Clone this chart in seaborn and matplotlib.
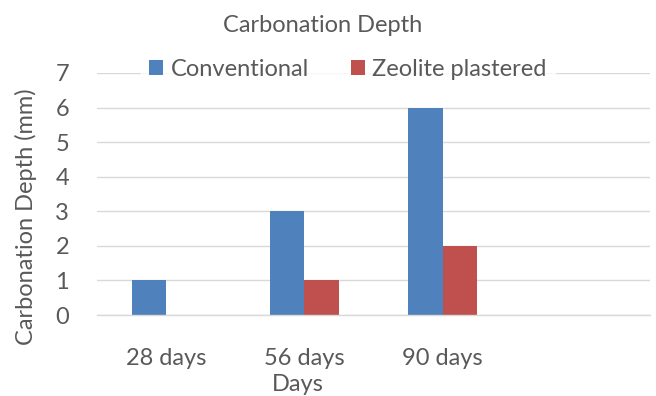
import matplotlib
matplotlib.use("Agg")
import matplotlib.pyplot as plt
import seaborn as sns
import pandas as pd
import numpy as np

categories = ["28 days", "56 days", "90 days", " "]
conventional = [1, 3, 6, np.nan]
zeolite = [0, 1, 2, np.nan]
series_names = ["Conventional", "Zeolite plastered"]
colors = ["#4F81BD", "#C0504D"]
yticks = [0, 1, 2, 3, 4, 5, 6, 7]

df = pd.DataFrame({
    "Days": categories * 2,
    "Depth": conventional + zeolite,
    "Series": [series_names[0]] * len(categories) + [series_names[1]] * len(categories),
})

sns.set_theme(style="white")
plt.rcParams["font.family"] = ["Lato", "DejaVu Sans"]
text_color = "#595959"
grid_color = "#D9D9D9"
fs = 17

W, H = 656, 396
fig = plt.figure(figsize=(W / 100, H / 100), dpi=100)
ax = fig.add_axes([97 / W, 1 - 315 / H, (650 - 97) / W, (315 - 73) / H])

sns.barplot(data=df, x="Days", y="Depth", hue="Series", order=categories,
            hue_order=series_names, palette=colors, width=0.5, gap=0,
            saturation=1, errorbar=None, ax=ax, legend=True, linewidth=0)

ax.set_ylim(0, 7)
ax.set_xlim(-0.5, len(categories) - 0.5)
ax.set_yticks(yticks)
ax.set_yticklabels([str(v) for v in yticks], color=text_color, fontsize=fs)
ax.yaxis.grid(True, color=grid_color, linewidth=1)
ax.set_axisbelow(True)
ax.tick_params(axis="y", length=0, pad=20)

# category labels without tick marks; boundary ticks between categories
ax.set_xticks(range(len(categories)))
ax.set_xticklabels(categories, color=text_color, fontsize=fs)
ax.tick_params(axis="x", length=0, pad=24)
ax.set_xticks(np.arange(-0.5, len(categories)), minor=True)
ax.tick_params(axis="x", which="minor", length=5.5, color=grid_color, width=1, direction="out")

for s in ["top", "right", "left"]:
    ax.spines[s].set_visible(False)
ax.spines["bottom"].set_color(grid_color)
ax.spines["bottom"].set_linewidth(1)

ax.set_xlabel("")
ax.set_ylabel("")
fig.text(26 / W, 1 - 217 / H, "Carbonation Depth (mm)", rotation=90,
         ha="center", va="center", color=text_color, fontsize=fs)
fig.text(298 / W, 1 - 391 / H, "Days", ha="center", va="baseline",
         color=text_color, fontsize=fs)

leg = ax.legend(loc="center", bbox_to_anchor=(348 / W, 1 - 69 / H),
                bbox_transform=fig.transFigure, ncol=2, frameon=True,
                fontsize=fs, handlelength=0.6, handleheight=0.6, handletextpad=0.3,
                columnspacing=1.8, borderpad=0.35, borderaxespad=0)
leg.get_frame().set_facecolor("white")
leg.get_frame().set_edgecolor("white")
leg.get_frame().set_boxstyle("square", pad=0)
for t in leg.get_texts():
    t.set_color(text_color)

fig.text(323 / W, 1 - 32 / H, "Carbonation Depth", ha="center", va="baseline",
         color=text_color, fontsize=fs)

fig.savefig("out.png", dpi=100)
